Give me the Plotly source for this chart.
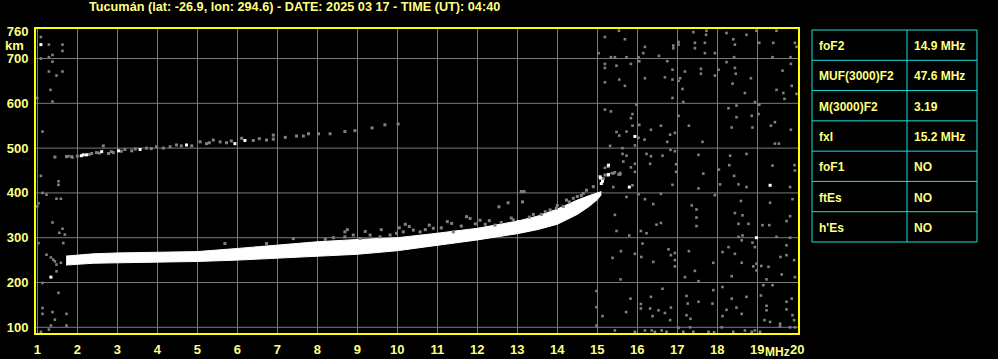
import plotly.graph_objects as go

W, H = 998, 359
ML, MR, MT, MB = 36, 200, 29, 26
PW, PH = W - ML - MR, H - MT - MB

TXT = "#FFFF80"
FRAME = "#FFFF00"
GRID = "#7a7a7a"
GRAY = "#808080"
CYAN = "#18E0E0"
FONT = "Liberation Sans, Arial, sans-serif"

title_text = "Tucumán (lat: -26.9, lon: 294.6) - DATE: 2025 03 17 - TIME (UT): 04:40"
x_ticks = list(range(1, 21))
y_ticks = [100, 200, 300, 400, 500, 600, 700, 760]
y_grid = [100, 200, 300, 400, 500, 600, 700]

# table
param_names = ["foF2", "MUF(3000)F2", "M(3000)F2", "fxI", "foF1", "ftEs", "h'Es"]
param_values = ["14.9 MHz", "47.6 MHz", "3.19", "15.2 MHz", "NO", "NO", "NO"]

# main F2 trace (virtual height band, km) vs frequency (MHz)
band_f    = [1.72, 2.0, 2.4, 3.0, 4.0, 5.0, 6.0, 7.0, 8.0, 9.0, 10.0, 11.0, 12.0, 13.0, 13.5, 14.0, 14.5, 14.8, 15.0, 15.1]
band_low  = [239, 241, 243, 244, 245, 247, 250, 254, 259, 263, 271, 283, 295, 309, 318, 330, 352, 370, 385, 396]
band_high = [259, 261, 264, 266, 267, 269, 276, 284, 291, 296, 300, 310, 321, 337, 348, 364, 384, 394, 400, 403]

# weaker echoes just above the main trace
echo_f = [5.69, 6.73, 7.4, 8.2, 8.4, 8.69, 8.69, 8.75, 8.9, 9.07, 9.2, 9.32, 9.57, 9.6, 9.82, 9.98, 10.15, 10.2, 10.3,
          10.4, 10.57, 10.7, 10.9, 11.1, 11.36, 11.4, 11.6, 11.73, 11.82, 12.07, 12.2, 12.44, 12.54, 12.6, 12.77,
          12.9, 13.1, 13.13, 13.17, 13.3, 13.6, 13.82, 13.98, 14.0, 14.15, 14.23, 14.4, 14.6, 14.65, 14.73, 14.9,
          15.15, 15.19, 15.27, 15.4, 15.57, 10.05, 10.8, 11.25, 11.95, 12.3, 12.85, 13.4, 13.7, 14.3, 14.5]
echo_h = [287, 287, 298, 296, 300, 313, 302, 318, 306, 298, 314, 306, 302, 318, 306, 310, 313, 330, 325,
          317, 313, 318, 321, 322, 332, 313, 326, 347, 343, 339, 330, 328, 369, 334, 378,
          340, 403, 380, 403, 346, 352, 362, 366, 372, 370, 384, 388, 394, 399, 406, 414,
          432, 440, 459, 444, 444, 322, 328, 336, 331, 338, 344, 352, 358, 380, 392]

# second-hop trace
hop2_f = [1.44, 1.73, 1.86, 2.36, 2.48, 2.65, 2.78, 2.9, 3.19, 3.36, 3.73, 3.98, 4.15, 4.32, 4.48, 4.86, 5.07,
          5.23, 5.4, 5.57, 5.73, 6.11, 6.4, 6.73, 6.9, 6.9, 7.48, 7.65, 7.78, 8.03, 8.32, 8.69, 8.94, 9.37,
          9.69, 10.02, 2.0, 2.3, 2.55, 2.85, 3.1, 3.45, 3.85, 4.6, 5.3, 5.85, 6.55, 7.2]
hop2_h = [480, 481, 481, 488, 490, 505, 488, 490, 497, 494, 500, 503, 500, 503, 507, 505, 514,
          510, 518, 514, 512, 522, 517, 518, 529, 520, 527, 527, 532, 532, 532, 537, 539, 545,
          552, 554, 482, 486, 489, 492, 493, 498, 499, 505, 512, 516, 521, 524]

# strong isolated echoes (white)
white_f = [2.1, 2.15, 2.23, 2.61, 3.03, 3.57, 4.73, 5.94, 6.19, 13.02, 15.07, 15.1, 15.27, 15.28, 15.28, 15.08,
           15.13, 15.94, 15.8, 18.98, 19.32, 1.09, 1.34]
white_h = [483, 485, 485, 492, 494, 497, 507, 510, 517, 336, 436, 421, 440, 462, 441, 433,
           426, 526, 413, 300, 417, 731, 212]

# scattered noise
noise_f = [1.09, 1.29, 1.63, 1.63, 1.38, 1.29, 1.09, 1.38, 1.48, 1.29, 1.63, 1.33, 1.0, 1.38, 1.13, 1.78, 1.88,
           1.09, 1.53, 1.53, 1.13, 1.23, 1.03, 1.0, 1.48, 1.59, 1.38, 1.63, 1.55, 1.69, 1.65, 1.03, 1.23, 1.34,
           1.4, 1.44, 1.48, 1.59, 1.48, 1.13, 1.53, 1.13, 1.13, 1.38, 1.44, 1.73, 1.34, 1.73, 1.09, 1.29,
           15.54, 15.19, 15.69, 15.03, 15.34, 15.44, 15.73, 16.03, 16.15, 16.19, 16.54, 16.9, 16.9, 17.03, 17.03,
           17.4, 17.73, 17.72, 17.44, 17.44, 17.69, 17.69, 17.94, 18.23, 18.4, 18.73, 18.98, 19.48, 19.05, 19.4,
           19.94, 19.98, 18.44, 18.42, 19.38, 19.83, 15.19, 15.19, 15.48, 15.84, 16.05, 16.75, 16.88, 17.19,
           17.07, 17.03, 16.69, 16.19, 17.59, 17.59, 17.94, 18.03, 18.23, 18.44, 18.46, 18.84, 19.63, 19.84,
           15.19, 15.55, 15.69, 16.88, 17.13, 16.88, 17.15, 18.38, 18.69, 18.94, 19.48, 19.65, 19.68, 19.86,
           19.98, 15.98, 15.88, 15.84, 15.88, 16.05, 15.19, 15.34, 15.48, 15.55, 15.73, 16.03, 16.18, 16.34,
           16.59, 16.82, 16.94, 16.75, 17.03, 17.29, 17.63, 18.28, 18.48, 18.48, 18.86, 18.88, 19.05, 19.03,
           18.36, 19.34, 19.44, 19.84, 19.44, 19.54, 15.32, 15.63, 15.73, 15.63, 15.94, 15.94, 16.23, 16.34,
           16.63, 16.83, 16.94, 17.53, 17.65, 16.97, 16.97, 18.04, 18.32, 18.3, 18.42, 18.73, 19.38, 19.93,
           19.94, 15.65, 15.57, 15.84, 15.94, 16.32, 15.44, 15.19, 15.36, 15.53,
           15.4, 15.88, 16.03, 16.19, 16.4, 16.59, 16.88, 17.36, 17.48, 17.48, 17.48, 17.53, 17.94, 18.07,
           18.53, 18.73, 19.82, 19.88, 19.32, 18.59, 18.44, 18.63, 18.53, 18.78, 19.13, 19.3, 19.73, 19.82,
           15.44, 15.73, 15.48, 15.8, 16.09, 16.23, 16.48, 16.59, 18.53, 18.61, 18.88, 18.94, 18.63, 19.48,
           19.73, 19.82, 15.59, 15.38, 15.94, 16.13, 16.1, 16.4, 16.78, 16.94, 16.94, 16.94, 16.84, 17.29,
           17.44, 17.19, 17.53, 17.9, 18.13, 18.28, 18.44, 18.36, 18.61, 18.9, 18.98, 18.98, 19.1, 19.28,
           19.58, 19.73, 19.61, 19.92, 19.94, 19.23, 14.98, 15.58, 15.83, 16.09, 16.09, 16.34, 16.63, 14.98,
           15.13, 15.72, 16.32, 16.38, 16.53, 16.69, 16.84, 16.82, 17.23, 17.26, 17.23, 17.33, 17.53, 17.9,
           17.88, 18.13, 18.13, 18.23, 18.36, 18.48, 18.61, 18.73, 19.09, 19.15, 19.38, 19.23, 19.23, 19.18,
           19.32, 19.57, 19.73, 19.73, 19.86, 19.88, 19.92, 14.98, 15.44, 15.94, 16.19, 16.36, 16.44, 16.61,
           16.73, 17.03, 17.15, 17.32, 17.4, 17.78, 17.92, 18.11, 18.4, 18.69, 18.86, 18.94, 19.07, 19.57,
           19.82, 19.94]
noise_h = [748, 731, 731, 717, 708, 703, 700, 693, 662, 671, 671, 630, 612, 604, 537, 482, 479,
           438, 426, 418, 400, 396, 377, 370, 387, 387, 334, 320, 311, 307, 288, 288, 262, 256,
           251, 247, 240, 244, 225, 199, 177, 143, 130, 134, 117, 130, 104, 104, 90, 95,
           762, 748, 743, 712, 703, 703, 703, 703, 712, 726, 706, 723, 729, 737, 731,
           759, 762, 753, 735, 723, 735, 712, 712, 757, 743, 753, 762, 762, 735, 735,
           735, 726, 731, 703, 703, 703, 688, 679, 684, 688, 694, 694, 675, 671,
           656, 650, 658, 656, 677, 666, 662, 675, 692, 679, 666, 656, 673, 688,
           647, 653, 639, 653, 632, 612, 603, 644, 623, 603, 630, 623, 610, 639,
           621, 597, 576, 567, 550, 552, 586, 582, 536, 528, 537, 523, 519, 541,
           550, 530, 534, 514, 572, 550, 514, 589, 595, 569, 572, 546, 597, 576,
           546, 550, 558, 541, 510, 510, 505, 500, 483, 487, 506, 465, 487, 482,
           483, 496, 493, 485, 443, 464, 447, 452, 483, 462, 438, 487, 461, 462,
           450, 470, 441, 457, 447, 465, 446, 456, 444, 441,
           413, 417, 397, 386, 375, 398, 418, 372, 363, 345, 326, 410, 395, 419,
           419, 413, 413, 386, 378, 382, 355, 350, 331, 331, 328, 328, 337, 348,
           351, 391, 315, 305, 315, 310, 329, 333, 302, 294, 289, 279, 305, 302,
           283, 300, 270, 255, 264, 287, 257, 246, 274, 266, 250, 236, 261, 270,
           226, 212, 203, 244, 268, 279, 264, 214, 244, 236, 242, 227, 237, 235,
           257, 261, 218, 250, 212, 207, 181, 207, 164, 152, 142, 168, 186, 145,
           125, 134, 142, 125, 138, 132, 144, 116, 170, 153, 127, 119, 157, 183,
           153, 190, 125, 139, 164, 144, 130, 168, 171, 194, 194, 148, 138, 116,
           112, 108, 140, 157, 164, 127, 116, 104, 93, 90, 93, 93, 90, 93,
           90, 99, 90, 100, 90, 90, 89, 100, 90, 93, 90, 93, 90, 102,
           100, 100]

X_RANGE = [0.9675, 20.0175]
Y_RANGE = [87.3, 765.9]


def px2paper(px, py):
    return (px - ML) / PW, (H - MB - py) / PH


fig = go.Figure()

# main trace as filled band
fig.add_trace(go.Scatter(x=band_f, y=band_low, mode="lines", line=dict(color="white", width=1),
                         hoverinfo="skip", showlegend=False))
fig.add_trace(go.Scatter(x=band_f, y=band_high, mode="lines", line=dict(color="white", width=1),
                         fill="tonexty", fillcolor="white", hoverinfo="skip", showlegend=False))

for xs, ys, col, sz in [(noise_f, noise_h, GRAY, 2.6), (echo_f, echo_h, GRAY, 3),
                        (hop2_f, hop2_h, GRAY, 3), (white_f, white_h, "white", 3)]:
    fig.add_trace(go.Scatter(x=xs, y=ys, mode="markers",
                             marker=dict(symbol="square", size=sz, color=col, line=dict(width=0)),
                             hoverinfo="skip", showlegend=False))

tickfont = dict(family=FONT, size=13, color=TXT, weight="bold")

fig.update_xaxes(range=X_RANGE, tickvals=x_ticks, ticktext=[str(v) for v in x_ticks],
                 showgrid=True, gridcolor=GRID, gridwidth=1, zeroline=False,
                 showline=True, linecolor=FRAME, linewidth=2, mirror=True,
                 ticks="outside", ticklen=3, tickcolor="rgba(0,0,0,0)", tickfont=tickfont,
                 automargin=False, fixedrange=True)
fig.update_yaxes(range=Y_RANGE, tickvals=y_ticks, ticktext=[str(v) for v in y_ticks],
                 showgrid=False, zeroline=False,
                 showline=True, linecolor=FRAME, linewidth=2, mirror=True,
                 ticks="outside", ticklen=3, tickcolor="rgba(0,0,0,0)", tickfont=tickfont,
                 automargin=False, fixedrange=True)

shapes = []
# horizontal grid lines (not at 760)
for yv in y_grid:
    shapes.append(dict(type="line", xref="paper", yref="y", x0=0, x1=1, y0=yv, y1=yv,
                       line=dict(color=GRID, width=1), layer="below"))

# table
t_left, t_right, t_mid, t_top, t_bot = 812, 977, 907, 30, 242
row_h = (t_bot - t_top) / len(param_names)
x0, y0 = px2paper(t_left, t_top)
x1, y1 = px2paper(t_right, t_bot)
shapes.append(dict(type="rect", xref="paper", yref="paper", x0=x0, x1=x1, y0=y1, y1=y0,
                   line=dict(color=CYAN, width=1)))
xm, _ = px2paper(t_mid, 0)
shapes.append(dict(type="line", xref="paper", yref="paper", x0=xm, x1=xm, y0=y1, y1=y0,
                   line=dict(color=CYAN, width=1)))
annotations = []
for i, (nm, val) in enumerate(zip(param_names, param_values)):
    if i > 0:
        _, yy = px2paper(0, t_top + i * row_h)
        shapes.append(dict(type="line", xref="paper", yref="paper", x0=x0, x1=x1, y0=yy, y1=yy,
                           line=dict(color=CYAN, width=1)))
    _, yc = px2paper(0, t_top + (i + 0.5) * row_h + 1)
    xa, _ = px2paper(t_left + 5, 0)
    xb, _ = px2paper(t_mid + 5, 0)
    annotations.append(dict(xref="paper", yref="paper", x=xa, y=yc, text=nm, showarrow=False,
                            xanchor="left", yanchor="middle",
                            font=dict(family=FONT, size=12, color=TXT, weight="bold")))
    annotations.append(dict(xref="paper", yref="paper", x=xb, y=yc, text=val, showarrow=False,
                            xanchor="left", yanchor="middle",
                            font=dict(family=FONT, size=12, color=TXT, weight="bold")))

# title
tx, ty = px2paper(294.5, 7)
annotations.append(dict(xref="paper", yref="paper", x=tx, y=ty, text=title_text, showarrow=False,
                        xanchor="center", yanchor="middle",
                        font=dict(family=FONT, size=12.7, color=TXT, weight="bold")))
# axis unit labels
kx, ky = px2paper(14, 45)
annotations.append(dict(xref="paper", yref="paper", x=kx, y=ky, text="km", showarrow=False,
                        xanchor="center", yanchor="middle",
                        font=dict(family=FONT, size=13, color=TXT, weight="bold")))
mx, my = px2paper(792, 352)
annotations.append(dict(xref="paper", yref="paper", x=mx, y=my, text="MHz", showarrow=False,
                        xanchor="right", yanchor="middle",
                        font=dict(family=FONT, size=12, color=TXT, weight="bold")))

fig.update_layout(width=W, height=H, margin=dict(l=ML, r=MR, t=MT, b=MB, pad=0),
                  paper_bgcolor="black", plot_bgcolor="black", showlegend=False,
                  shapes=shapes, annotations=annotations, hovermode=False)

fig.write_html("out.html", config={"displayModeBar": False})
